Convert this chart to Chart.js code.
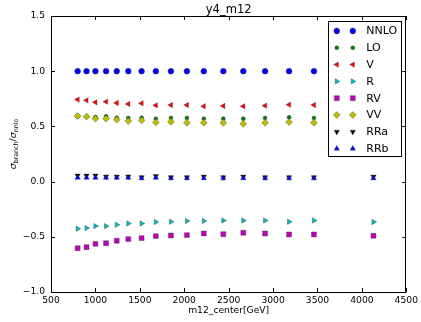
<!DOCTYPE html>
<html>
<head>
<meta charset="utf-8">
<script src="https://cdn.jsdelivr.net/npm/chart.js@4/dist/chart.umd.min.js"></script>
<style>
html,body{margin:0;padding:0;background:#fff;}
canvas{display:block;}
</style>
</head>
<body>
<canvas id="c" width="421" height="322"></canvas>
<script>
// ---- data ----
const mass = [800, 900, 1000, 1120, 1240, 1370, 1520, 1680, 1850, 2030, 2220, 2440, 2665, 2910, 3180, 3460, 4130];
const NNLO = [1, 1, 1, 1, 1, 1, 1, 1, 1, 1, 1, 1, 1, 1, 1, 1, 1];
const LO   = [0.59, 0.59, 0.585, 0.591, 0.579, 0.576, 0.579, 0.570, 0.576, 0.576, 0.570, 0.570, 0.570, 0.576, 0.582, 0.576, 0.575];
const V    = [0.743, 0.736, 0.718, 0.724, 0.712, 0.703, 0.709, 0.691, 0.694, 0.694, 0.682, 0.685, 0.682, 0.688, 0.697, 0.694, 0.69];
const R    = [-0.427, -0.421, -0.403, -0.403, -0.391, -0.379, -0.379, -0.366, -0.364, -0.357, -0.357, -0.352, -0.352, -0.352, -0.364, -0.352, -0.366];
const RV   = [-0.603, -0.594, -0.564, -0.558, -0.536, -0.521, -0.512, -0.494, -0.488, -0.485, -0.470, -0.476, -0.464, -0.470, -0.479, -0.479, -0.491];
const VV   = [0.594, 0.588, 0.570, 0.570, 0.561, 0.548, 0.555, 0.536, 0.542, 0.533, 0.533, 0.533, 0.524, 0.533, 0.539, 0.533, 0.53];
const RRa  = [0.055, 0.055, 0.055, 0.045, 0.045, 0.045, 0.04, 0.05, 0.04, 0.04, 0.045, 0.04, 0.045, 0.04, 0.04, 0.04, 0.045];
const RRb  = [0.035, 0.035, 0.035, 0.035, 0.035, 0.035, 0.03, 0.035, 0.03, 0.03, 0.03, 0.03, 0.03, 0.03, 0.03, 0.03, 0.03];
const xTicks = [500, 1000, 1500, 2000, 2500, 3000, 3500, 4000, 4500];
const yTicks = [-1.0, -0.5, 0.0, 0.5, 1.0, 1.5];
const titleText = 'y4_m12';
const xTitle = 'm12_center[GeV]';

const FONT = '"DejaVu Sans", sans-serif';
const EDGE = 'rgba(60,60,60,0.7)';

const seriesDefs = [
  {label: 'NNLO', data: NNLO, color: '#0000ff', style: 'circle', r: 2.9, rot: 0},
  {label: 'LO',   data: LO,   color: '#008000', style: 'circle', r: 2.0, rot: 0},
  {label: 'V',    data: V,    color: '#ff0000', style: 'triangle', r: 3.1, rot: -90},
  {label: 'R',    data: R,    color: '#00bfbf', style: 'triangle', r: 3.1, rot: 90},
  {label: 'RV',   data: RV,   color: '#bf00bf', style: 'rect', r: 3.5, rot: 0},
  {label: 'VV',   data: VV,   color: '#bfbf00', style: 'rectRot', r: 3.4, rot: 0},
  {label: 'RRa',  data: RRa,  color: '#000000', style: 'triangle', r: 3.1, rot: 180},
  {label: 'RRb',  data: RRb,  color: '#0000ff', style: 'triangle', r: 3.1, rot: 0}
];

const datasets = seriesDefs.map((s, i) => ({
  label: s.label,
  data: mass.map((m, j) => ({x: m, y: s.data[j]})),
  backgroundColor: s.color,
  borderColor: EDGE,
  borderWidth: 0.6,
  pointStyle: s.style,
  pointRadius: s.r,
  pointRotation: s.rot,
  showLine: false,
  order: seriesDefs.length - i
}));

function fmtY(v) {
  return v.toFixed(1).replace('-', '\u2212');
}

const decor = {
  id: 'decor',
  afterDraw(chart) {
    const ctx = chart.ctx;
    const a = chart.chartArea;
    const xs = chart.scales.x, ys = chart.scales.y;
    ctx.save();
    // frame
    ctx.strokeStyle = '#000';
    ctx.lineWidth = 1;
    ctx.strokeRect(Math.round(a.left) + 0.5, Math.round(a.top) + 0.5,
                   Math.round(a.right - a.left) - 1, Math.round(a.bottom - a.top));
    // inward ticks
    const tl = 4;
    ctx.beginPath();
    xTicks.forEach(v => {
      const px = Math.round(xs.getPixelForValue(v)) + 0.5;
      ctx.moveTo(px, a.bottom); ctx.lineTo(px, a.bottom - tl);
      ctx.moveTo(px, a.top); ctx.lineTo(px, a.top + tl);
    });
    yTicks.forEach(v => {
      const py = Math.round(ys.getPixelForValue(v)) + 0.5;
      ctx.moveTo(a.left, py); ctx.lineTo(a.left + tl, py);
      ctx.moveTo(a.right, py); ctx.lineTo(a.right - tl, py);
    });
    ctx.stroke();

    // title
    ctx.fillStyle = '#000';
    ctx.font = '11.5px ' + FONT;
    ctx.textAlign = 'center';
    ctx.textBaseline = 'alphabetic';
    ctx.fillText(titleText, (a.left + a.right) / 2, 13);

    // x axis title
    ctx.font = '9.2px ' + FONT;
    ctx.fillText(xTitle, (a.left + a.right) / 2, 312.5);

    // y axis title (mathtext-like)
    const parts = [
      {t: '\u03c3', f: 'italic 9.5px ' + FONT, dy: 0},
      {t: 'branch', f: '6.3px ' + FONT, dy: 2},
      {t: '/', f: '9.5px ' + FONT, dy: 0},
      {t: '\u03c3', f: 'italic 9.5px ' + FONT, dy: 0},
      {t: 'nnlo', f: '6.3px ' + FONT, dy: 2}
    ];
    ctx.save();
    ctx.translate(16, 144);
    ctx.rotate(-Math.PI / 2);
    let total = 0;
    parts.forEach(p => { ctx.font = p.f; p.w = ctx.measureText(p.t).width; total += p.w; });
    let cx = -total / 2;
    ctx.textAlign = 'left';
    parts.forEach(p => { ctx.font = p.f; ctx.fillText(p.t, cx, p.dy); cx += p.w; });
    ctx.restore();

    // legend box
    const bx = a.right - 78, by = a.top + 5, bw = 73, bh = 135;
    ctx.fillStyle = '#fff';
    ctx.fillRect(bx, by, bw, bh);
    ctx.strokeStyle = '#000';
    ctx.lineWidth = 1;
    ctx.strokeRect(Math.round(bx) + 0.5, Math.round(by) + 0.5, bw, bh);
    ctx.font = '11px ' + FONT;
    ctx.textAlign = 'left';
    ctx.textBaseline = 'middle';
    seriesDefs.forEach((s, i) => {
      const yy = by + 10 + i * 16.8;
      [bx + 8.5, bx + 24.5].forEach(mx => {
        ctx.fillStyle = s.color;
        ctx.strokeStyle = EDGE;
        ctx.lineWidth = 0.6;
        Chart.helpers.drawPoint(ctx, {pointStyle: s.style, radius: s.r, rotation: s.rot, borderWidth: 0.6}, mx, yy);
      });
      ctx.fillStyle = '#000';
      ctx.fillText(s.label, bx + 38, yy + 0.5);
    });
    ctx.restore();
  }
};

new Chart(document.getElementById('c'), {
  type: 'scatter',
  data: {datasets},
  plugins: [decor],
  options: {
    responsive: false,
    animation: false,
    devicePixelRatio: 1,
    layout: {padding: {top: 16, right: 14, left: 0, bottom: 0}},
    plugins: {legend: {display: false}, tooltip: {enabled: false}, title: {display: false}},
    scales: {
      x: {
        type: 'linear', min: 500, max: 4500,
        afterFit(s) { s.height = 30; },
        afterBuildTicks(s) { s.ticks = xTicks.map(v => ({value: v})); },
        grid: {display: false, drawTicks: false, tickLength: 0},
        border: {display: false},
        ticks: {font: {family: FONT, size: 9.2}, color: '#000', padding: 3, maxRotation: 0,
                callback: v => String(v)}
      },
      y: {
        type: 'linear', min: -1.0, max: 1.5,
        afterFit(s) { s.width = 51; },
        afterBuildTicks(s) { s.ticks = yTicks.map(v => ({value: v})); },
        grid: {display: false, drawTicks: false, tickLength: 0},
        border: {display: false},
        ticks: {font: {family: FONT, size: 9.2}, color: '#000', padding: 6,
                callback: v => fmtY(v)}
      }
    }
  }
});
</script>
</body>
</html>
